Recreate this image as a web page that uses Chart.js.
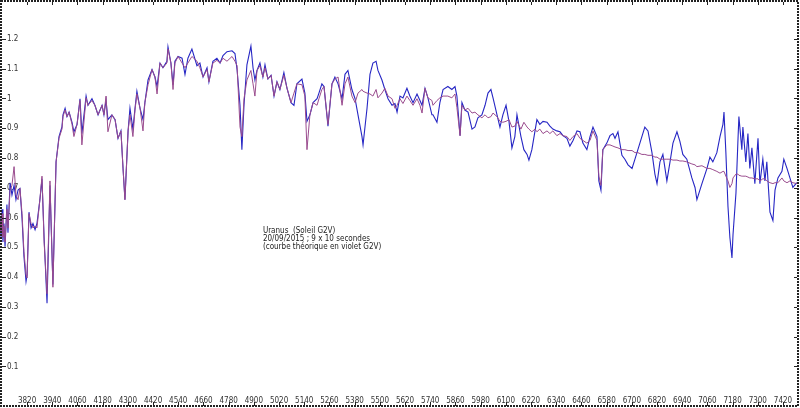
<!DOCTYPE html>
<html>
<head>
<meta charset="utf-8">
<script src="https://cdn.jsdelivr.net/npm/chart.js@4/dist/chart.umd.min.js"></script>
<style>
  html, body { margin: 0; padding: 0; background: #fff; }
  #wrap { width: 800px; height: 408px; }
</style>
</head>
<body>
<div id="wrap"><canvas id="spectre" width="800" height="408"></canvas></div>
<script>
// ── Data (Angström / relative flux) ──────────

const lambdas = [
    3691, 3696, 3701, 3705, 3710, 3715, 3724, 3729, 3739, 3748, 3758, 3767, 3777, 3786, 3796, 3805, 3815, 3820, 3829, 3839,
    3848, 3858, 3867, 3881, 3891, 3901, 3915, 3929, 3943, 3958, 3972, 3986, 3991, 4001, 4010, 4020, 4034, 4043, 4058, 4072,
    4081, 4101, 4110, 4129, 4143, 4158, 4177, 4186, 4196, 4205, 4224, 4239, 4253, 4267, 4277, 4286, 4301, 4310, 4324, 4334,
    4343, 4358, 4372, 4381, 4396, 4415, 4429, 4439, 4453, 4467, 4486, 4491, 4505, 4515, 4524, 4539, 4558, 4572, 4586, 4605,
    4629, 4643, 4658, 4677, 4686, 4705, 4724, 4739, 4753, 4772, 4796, 4810, 4820, 4834, 4843, 4853, 4867, 4886, 4896, 4905,
    4915, 4929, 4943, 4953, 4967, 4982, 4996, 5010, 5024, 5043, 5058, 5077, 5091, 5105, 5129, 5143, 5153, 5167, 5182, 5201,
    5210, 5224, 5234, 5253, 5272, 5286, 5301, 5320, 5334, 5348, 5367, 5382, 5396, 5415, 5420, 5439, 5453, 5467, 5482, 5491,
    5510, 5524, 5539, 5558, 5572, 5582, 5596, 5610, 5629, 5643, 5658, 5677, 5691, 5701, 5715, 5729, 5748, 5753, 5772, 5786,
    5801, 5824, 5843, 5858, 5867, 5882, 5891, 5905, 5920, 5939, 5953, 5967, 5986, 6001, 6015, 6029, 6039, 6058, 6072, 6086,
    6101, 6115, 6129, 6143, 6153, 6172, 6186, 6201, 6210, 6224, 6239, 6248, 6262, 6277, 6296, 6310, 6324, 6343, 6358, 6372,
    6391, 6405, 6420, 6439, 6453, 6467, 6486, 6501, 6515, 6534, 6543, 6553, 6562, 6581, 6596, 6610, 6620, 6634, 6653, 6667,
    6682, 6701, 6715, 6729, 6748, 6762, 6777, 6796, 6810, 6820, 6834, 6848, 6867, 6882, 6896, 6915, 6929, 6943, 6962, 6986,
    7001, 7010, 7034, 7058, 7072, 7086, 7105, 7120, 7134, 7139, 7148, 7158, 7167, 7177, 7182, 7196, 7205, 7210, 7224, 7229,
    7243, 7253, 7262, 7272, 7286, 7301, 7310, 7324, 7334, 7343, 7358, 7372, 7382, 7396, 7415, 7424, 7439, 7453, 7467, 7486
];

// Uranus, observed (blue)
const uranus = [
    0.606, 0.534, 0.628, 0.518, 0.580, 0.502, 0.644, 0.549, 0.717, 0.676, 0.708, 0.660, 0.692, 0.698, 0.597, 0.470, 0.385, 0.407, 0.618, 0.565,
    0.580, 0.559, 0.580, 0.660, 0.730, 0.534, 0.312, 0.708, 0.375, 0.787, 0.872, 0.904, 0.945, 0.967, 0.939, 0.954, 0.920, 0.888, 0.913, 0.999,
    0.882, 1.008, 0.977, 0.999, 0.977, 0.945, 0.977, 0.945, 0.993, 0.929, 0.945, 0.929, 0.866, 0.891, 0.765, 0.660, 0.891, 0.967, 0.897, 0.967,
    1.024, 0.967, 0.929, 0.986, 1.062, 1.097, 1.072, 1.040, 1.119, 1.103, 1.125, 1.173, 1.119, 1.046, 1.125, 1.141, 1.135, 1.081, 1.135, 1.166,
    1.110, 1.119, 1.072, 1.103, 1.056, 1.125, 1.135, 1.119, 1.144, 1.157, 1.160, 1.151, 1.097, 0.977, 0.828, 0.977, 1.113, 1.176, 1.103, 1.062,
    1.094, 1.119, 1.072, 1.113, 1.065, 1.078, 1.008, 1.056, 1.030, 1.087, 1.034, 0.986, 0.977, 1.049, 1.065, 1.018, 0.923, 0.945, 0.986, 0.999,
    1.018, 1.049, 1.040, 0.907, 1.049, 1.072, 1.049, 0.999, 1.081, 1.094, 1.030, 0.999, 0.945, 0.872, 0.844, 0.967, 1.081, 1.119, 1.125, 1.094,
    1.062, 1.030, 0.999, 0.977, 0.983, 0.954, 1.008, 1.002, 1.034, 1.008, 0.986, 1.015, 0.993, 0.977, 1.034, 1.002, 0.945, 0.945, 0.920, 0.986,
    1.030, 1.040, 1.030, 1.040, 1.008, 0.875, 0.986, 0.961, 0.954, 0.897, 0.904, 0.935, 0.945, 0.977, 1.018, 1.030, 1.002, 0.945, 0.904, 0.945,
    0.977, 0.923, 0.834, 0.872, 0.945, 0.872, 0.828, 0.812, 0.793, 0.828, 0.891, 0.929, 0.913, 0.923, 0.920, 0.907, 0.897, 0.891, 0.888, 0.875,
    0.866, 0.840, 0.859, 0.891, 0.888, 0.850, 0.828, 0.872, 0.904, 0.872, 0.723, 0.692, 0.828, 0.850, 0.875, 0.882, 0.866, 0.888, 0.809, 0.796,
    0.777, 0.765, 0.796, 0.828, 0.872, 0.904, 0.891, 0.818, 0.746, 0.714, 0.787, 0.812, 0.723, 0.787, 0.850, 0.888, 0.856, 0.812, 0.796, 0.733,
    0.701, 0.660, 0.714, 0.765, 0.803, 0.787, 0.818, 0.872, 0.913, 0.954, 0.818, 0.637, 0.534, 0.464, 0.543, 0.682, 0.850, 0.939, 0.828, 0.904,
    0.787, 0.882, 0.765, 0.834, 0.714, 0.866, 0.714, 0.796, 0.723, 0.787, 0.618, 0.590, 0.692, 0.733, 0.755, 0.796, 0.765, 0.733, 0.701, 0.717
];

// G2V theoretical curve (violet)
const g2v = [
    0.597, 0.549, 0.613, 0.534, 0.571, 0.518, 0.628, 0.565, 0.692, 0.708, 0.771, 0.676, 0.660, 0.698, 0.613, 0.486, 0.407, 0.397, 0.613, 0.580,
    0.565, 0.571, 0.565, 0.660, 0.739, 0.518, 0.344, 0.723, 0.366, 0.787, 0.866, 0.897, 0.939, 0.961, 0.939, 0.954, 0.913, 0.872, 0.913, 0.993,
    0.844, 1.002, 0.977, 0.993, 0.977, 0.945, 0.977, 0.945, 1.008, 0.888, 0.945, 0.929, 0.866, 0.891, 0.765, 0.660, 0.891, 0.945, 0.872, 0.961,
    1.015, 0.967, 0.891, 0.986, 1.046, 1.097, 1.072, 1.015, 1.119, 1.103, 1.119, 1.166, 1.119, 1.030, 1.119, 1.141, 1.119, 1.103, 1.119, 1.141,
    1.125, 1.103, 1.072, 1.097, 1.056, 1.119, 1.128, 1.119, 1.135, 1.125, 1.141, 1.125, 1.110, 0.904, 0.872, 0.999, 1.062, 1.094, 1.049, 1.008,
    1.094, 1.110, 1.072, 1.103, 1.065, 1.078, 1.008, 1.056, 1.030, 1.078, 1.034, 0.986, 1.018, 1.049, 1.046, 1.008, 0.828, 0.945, 0.986, 0.977,
    0.999, 1.030, 1.040, 0.913, 1.049, 1.065, 1.072, 0.977, 1.049, 1.072, 1.008, 0.986, 1.018, 1.030, 1.024, 1.018, 1.015, 1.008, 1.030, 1.002,
    1.018, 1.034, 1.008, 0.999, 0.967, 0.977, 0.999, 0.983, 1.008, 0.993, 0.977, 0.999, 0.977, 0.951, 1.034, 1.002, 0.993, 0.977, 0.993, 1.002,
    1.008, 1.008, 1.002, 1.015, 0.970, 0.875, 0.977, 0.961, 0.967, 0.951, 0.954, 0.945, 0.935, 0.945, 0.935, 0.939, 0.951, 0.939, 0.923, 0.920,
    0.923, 0.929, 0.904, 0.907, 0.923, 0.897, 0.920, 0.904, 0.897, 0.888, 0.897, 0.888, 0.897, 0.882, 0.891, 0.882, 0.891, 0.875, 0.882, 0.875,
    0.872, 0.859, 0.872, 0.882, 0.866, 0.859, 0.850, 0.859, 0.891, 0.859, 0.739, 0.708, 0.828, 0.844, 0.844, 0.840, 0.837, 0.834, 0.828, 0.828,
    0.825, 0.825, 0.818, 0.818, 0.812, 0.812, 0.809, 0.809, 0.803, 0.803, 0.796, 0.796, 0.796, 0.796, 0.793, 0.793, 0.790, 0.790, 0.787, 0.780,
    0.777, 0.771, 0.774, 0.765, 0.765, 0.761, 0.755, 0.749, 0.755, 0.755, 0.739, 0.723, 0.701, 0.714, 0.733, 0.746, 0.746, 0.742, 0.739, 0.739,
    0.739, 0.736, 0.733, 0.733, 0.730, 0.730, 0.723, 0.730, 0.730, 0.723, 0.717, 0.714, 0.717, 0.717, 0.733, 0.723, 0.717, 0.723, 0.717, 0.714
];

const xTicks = [3820, 3940, 4060, 4180, 4300, 4420, 4540, 4660, 4780, 4900, 5020, 5140, 5260, 5380, 5500, 5620,
                5740, 5860, 5980, 6100, 6220, 6340, 6460, 6580, 6700, 6820, 6940, 7060, 7180, 7300, 7420];
const yTicks = [0.1, 0.2, 0.3, 0.4, 0.5, 0.6, 0.7, 0.8, 0.9, 1, 1.1, 1.2];

const legendLines = ['Uranus  (Soleil G2V)', '20/09/2015 ; 9 x 10 secondes', '(courbe théorique en violet G2V)'];

const FONT = '"DejaVu Sans Condensed", "DejaVu Sans", sans-serif';

// frame with tick marks + note text
const framePlugin = {
    id: 'frame',
    afterDraw(chart) {
        const { ctx, scales: { x, y } } = chart;
        const W = chart.width, H = chart.height;
        ctx.save();
        ctx.strokeStyle = '#222';
        ctx.lineWidth = 1;
        xTicks.forEach(v => {
            const px = Math.round(x.getPixelForValue(v)) + 0.5;
            ctx.beginPath();
            ctx.moveTo(px, H - 2); ctx.lineTo(px, H - 6);
            ctx.moveTo(px, 2); ctx.lineTo(px, 5);
            ctx.stroke();
        });
        yTicks.forEach(v => {
            const py = Math.round(y.getPixelForValue(v)) + 0.5;
            ctx.beginPath();
            ctx.moveTo(2, py); ctx.lineTo(6, py);
            ctx.moveTo(W - 3, py); ctx.lineTo(W - 6, py);
            ctx.stroke();
        });
        ctx.lineWidth = 2;
        ctx.setLineDash([2, 1]);
        ctx.strokeRect(1, 1, W - 3, H - 3);
        ctx.setLineDash([]);

        ctx.fillStyle = '#222';
        ctx.font = '8px ' + FONT;
        ctx.textBaseline = 'middle';
        const tx = x.getPixelForValue(4943);
        legendLines.forEach((s, i) => {
            ctx.fillText(s, tx, y.getPixelForValue(0.556 - i * 0.0275));
        });
        ctx.restore();
    }
};

const toPts = arr => arr.map((v, i) => ({ x: lambdas[i], y: v }));

new Chart(document.getElementById('spectre'), {
    type: 'line',
    data: {
        datasets: [
            {
                label: 'G2V',
                data: toPts(g2v),
                borderColor: '#9a4c8e',
                borderWidth: 1,
                pointRadius: 0,
                tension: 0,
                order: 0
            },
            {
                label: 'Uranus',
                data: toPts(uranus),
                borderColor: '#2626c4',
                borderWidth: 1.1,
                pointRadius: 0,
                tension: 0,
                order: 1
            }
        ]
    },
    options: {
        responsive: false,
        animation: false,
        layout: { padding: 0 },
        plugins: { legend: { display: false }, tooltip: { enabled: false } },
        scales: {
            x: {
                type: 'linear',
                min: 3691,
                max: 7501,
                afterFit: s => { s.height = 0; },
                afterBuildTicks: s => { s.ticks = xTicks.map(v => ({ value: v })); },
                grid: { display: false, drawTicks: false },
                border: { display: false },
                ticks: {
                    mirror: true,
                    autoSkip: false,
                    maxRotation: 0,
                    padding: -10,
                    color: '#333',
                    font: { family: FONT, size: 8 },
                    callback: v => String(v)
                }
            },
            y: {
                min: 0,
                max: 1.291,
                afterFit: s => { s.width = 0; },
                afterBuildTicks: s => { s.ticks = yTicks.map(v => ({ value: v })); },
                grid: { display: false, drawTicks: false },
                border: { display: false },
                ticks: {
                    mirror: true,
                    padding: 7,
                    color: '#333',
                    font: { family: FONT, size: 8 },
                    callback: v => String(+v.toFixed(1))
                }
            }
        }
    },
    plugins: [framePlugin]
});
</script>
</body>
</html>
